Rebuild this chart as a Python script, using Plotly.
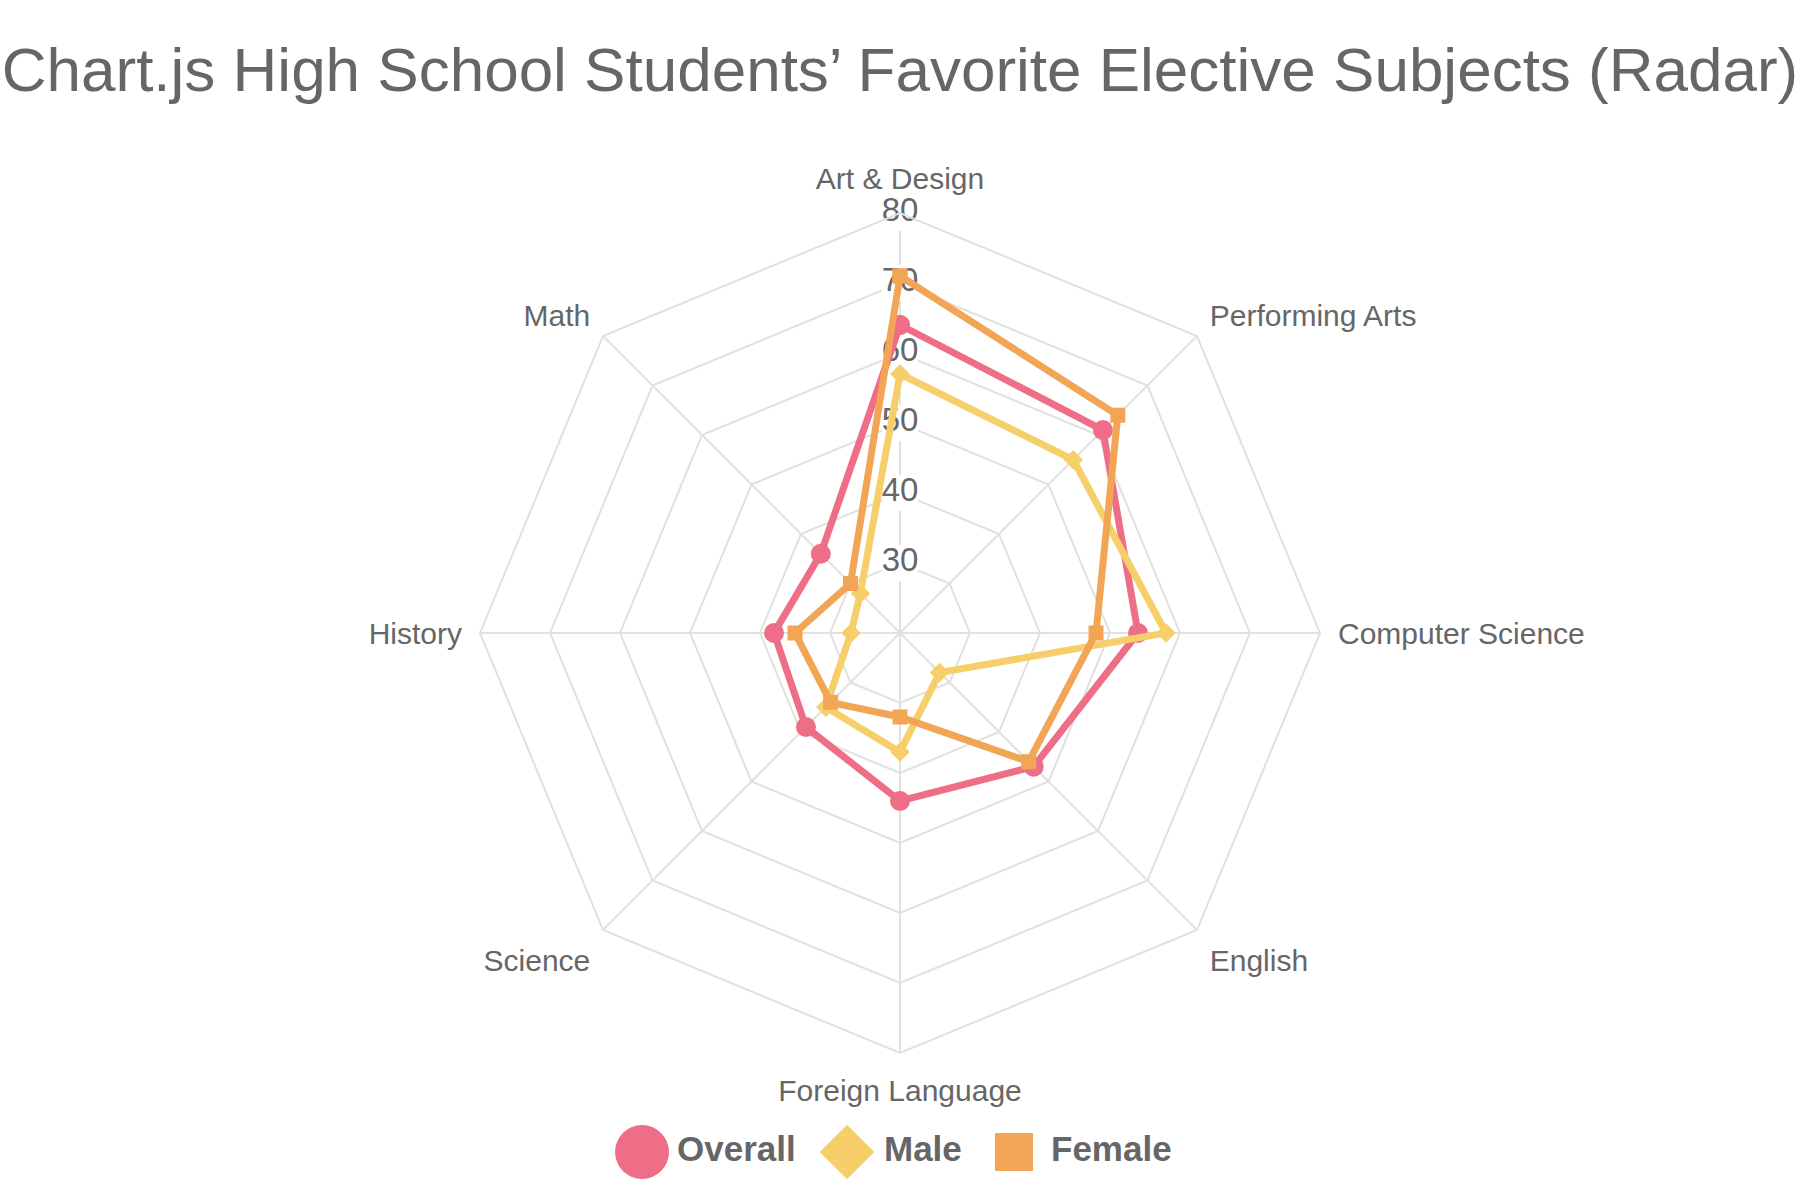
import plotly.graph_objects as go

# ---- data ----
categories = ["Art & Design", "Performing Arts", "Computer Science", "English",
              "Foreign Language", "Science", "History", "Math"]
overall = [64, 61, 54, 47, 44, 39, 38, 36]
male = [57, 55, 58, 28, 37, 35, 27, 28]
female = [71, 64, 48, 46, 32, 34, 35, 30]
series_names = ["Overall", "Male", "Female"]
radial_ticks = [30, 40, 50, 60, 70, 80]
title_text = "Chart.js High School Students’ Favorite Elective Subjects (Radar)"

# ---- styles ----
colors = ["#EE6E87", "#F6CF6A", "#F2A555"]
symbols = ["circle", "diamond", "square"]
marker_sizes = [20, 15, 15]
legend_marker_sizes = [54, 42, 38]
FONT = "Liberation Sans, Arial, Helvetica, sans-serif"
GRID = "#E1E1E1"
TXT = "#666666"

fig = go.Figure()

# white backdrops behind radial tick labels (hide grid lines like Chart.js)
fig.add_trace(go.Scatterpolar(
    r=radial_ticks, theta=[categories[0]] * len(radial_ticks),
    mode="markers", marker=dict(symbol="square", size=36, color="white"),
    hoverinfo="skip", showlegend=False))
fig.add_trace(go.Scatterpolar(
    r=radial_ticks, theta=[categories[0]] * len(radial_ticks),
    mode="text", text=[str(t) for t in radial_ticks],
    textfont=dict(family=FONT, size=33, color=TXT),
    textposition="middle center", hoverinfo="skip", showlegend=False))

for name, vals, col, sym, ms in zip(series_names, [overall, male, female],
                                    colors, symbols, marker_sizes):
    fig.add_trace(go.Scatterpolar(
        r=vals + vals[:1], theta=categories + categories[:1],
        mode="lines+markers", name=name,
        line=dict(color=col, width=7),
        marker=dict(symbol=sym, size=ms, color=col),
        showlegend=False))

# custom legend (large point-style markers like Chart.js)
legend_marker_x = [642, 847, 1014]
legend_text_x = [677, 884, 1051]
legend_y = 48
for name, col, sym, lms, mx, tx in zip(series_names, colors, symbols,
                                       legend_marker_sizes, legend_marker_x, legend_text_x):
    fig.add_trace(go.Scatter(
        x=[mx], y=[legend_y], mode="markers", xaxis="x", yaxis="y",
        marker=dict(symbol=sym, size=lms, color=col),
        hoverinfo="skip", showlegend=False))
    fig.add_trace(go.Scatter(
        x=[tx], y=[legend_y], mode="text", text=[name], xaxis="x", yaxis="y",
        textposition="middle right",
        textfont=dict(family=FONT, size=35, color=TXT, weight="bold"),
        hoverinfo="skip", showlegend=False))

fig.update_layout(
    width=1800, height=1200,
    margin=dict(l=0, r=0, t=0, b=0),
    paper_bgcolor="white", plot_bgcolor="white",
    title=dict(text=title_text, x=0.5, xanchor="center", y=1 - 69 / 1200,
               yanchor="middle", font=dict(family=FONT, size=62, color=TXT)),
    showlegend=False,
    polar=dict(
        domain=dict(x=[480 / 1800, 1320 / 1800], y=[1 - 1053 / 1200, 1 - 213 / 1200]),
        bgcolor="white",
        gridshape="linear",
        radialaxis=dict(range=[20, 80], tick0=0, dtick=10, showline=False,
                        showticklabels=False, ticks="", gridcolor=GRID, gridwidth=2),
        angularaxis=dict(direction="clockwise", rotation=90, showline=True,
                         linecolor=GRID, linewidth=2, gridcolor=GRID, gridwidth=2,
                         ticks="outside", ticklen=11, tickcolor="rgba(0,0,0,0)",
                         tickfont=dict(family=FONT, size=30, color=TXT)),
    ),
    xaxis=dict(domain=[0, 1], range=[0, 1800], visible=False, fixedrange=True),
    yaxis=dict(domain=[0, 0.1], range=[0, 120], visible=False, fixedrange=True),
)

fig.write_html("out.html")
